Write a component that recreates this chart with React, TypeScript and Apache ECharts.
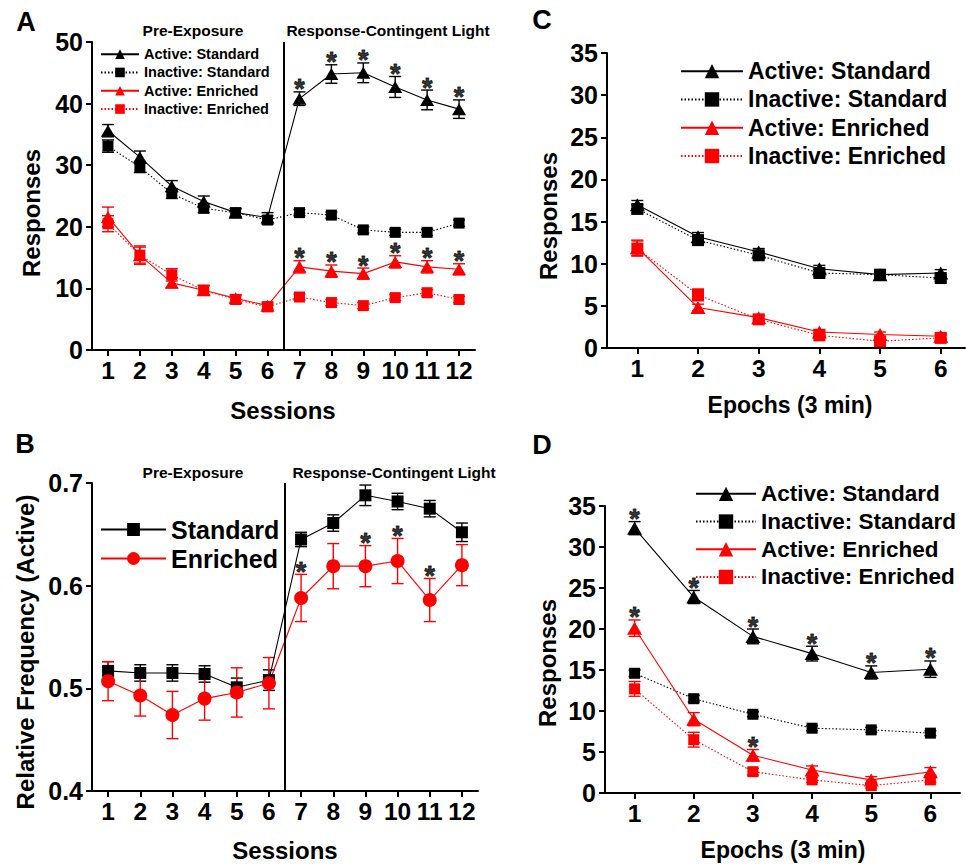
import React, { useEffect, useRef } from "react";
import * as echarts from "echarts";

const FONT = '"Liberation Sans", Arial, sans-serif';
const RED = "#ff0000";
const BLACK = "#000000";

// ---- Panel A: sessions ----
const sessions = [1, 2, 3, 4, 5, 6, 7, 8, 9, 10, 11, 12];
const aActStd = [35.6, 31.3, 26.6, 24.1, 22.3, 21.5, 40.8, 44.8, 45.0, 42.7, 40.6, 39.1];
const aActStdErr = [1.0, 1.0, 0.9, 0.9, 0.7, 0.8, 1.1, 1.5, 1.6, 1.7, 1.6, 1.5];
const aInStd = [33.1, 29.7, 25.4, 23.0, 22.3, 21.1, 22.3, 21.9, 19.5, 19.1, 19.1, 20.6];
const aInStdErr = [1.0, 0.9, 0.8, 0.7, 0.6, 0.7, 0.5, 0.5, 0.5, 0.5, 0.5, 0.5];
const aActEnr = [21.6, 15.4, 10.9, 9.7, 8.4, 7.2, 13.5, 12.8, 12.4, 14.3, 13.5, 13.1];
const aActEnrErr = [1.6, 1.3, 0.8, 0.7, 0.6, 0.6, 1.0, 1.0, 0.9, 1.0, 1.0, 0.9];
const aInEnr = [20.5, 15.4, 12.2, 9.7, 8.2, 7.0, 8.6, 7.7, 7.2, 8.5, 9.3, 8.2];
const aInEnrErr = [1.3, 1.5, 1.0, 0.8, 0.6, 0.6, 0.5, 0.5, 0.5, 0.5, 0.5, 0.5];
const aStarsActStd = [7, 8, 9, 10, 11, 12];
const aStarsActEnr = [7, 8, 9, 10, 11, 12];
const aYTicks = [0, 10, 20, 30, 40, 50];

// ---- Panel B: relative frequency ----
const bStd = [0.517, 0.515, 0.515, 0.514, 0.501, 0.508, 0.645, 0.661, 0.688, 0.682, 0.675, 0.652];
const bStdErr = [0.009, 0.008, 0.008, 0.008, 0.009, 0.01, 0.007, 0.008, 0.01, 0.008, 0.008, 0.009];
const bEnr = [0.507, 0.493, 0.474, 0.49, 0.496, 0.505, 0.588, 0.619, 0.619, 0.624, 0.586, 0.62];
const bEnrErr = [0.019, 0.02, 0.023, 0.021, 0.024, 0.025, 0.023, 0.022, 0.02, 0.022, 0.021, 0.02];
const bStarsEnr = [7, 9, 10, 11];
const bYTicks = [0.4, 0.5, 0.6, 0.7];

// ---- Panel C: epochs (pre-exposure) ----
const epochs = [1, 2, 3, 4, 5, 6];
const cActStd = [17.0, 13.2, 11.4, 9.4, 8.7, 8.9];
const cActStdErr = [0.5, 0.5, 0.4, 0.4, 0.3, 0.4];
const cInStd = [16.5, 12.8, 11.0, 8.9, 8.7, 8.3];
const cInStdErr = [0.5, 0.5, 0.4, 0.4, 0.3, 0.4];
const cActEnr = [11.9, 4.8, 3.6, 1.9, 1.6, 1.4];
const cActEnrErr = [0.9, 0.4, 0.3, 0.3, 0.3, 0.3];
const cInEnr = [11.8, 6.3, 3.4, 1.5, 0.8, 1.2];
const cInEnrErr = [0.9, 0.7, 0.4, 0.3, 0.3, 0.3];

// ---- Panel D: epochs (response-contingent light) ----
const dActStd = [32.3, 23.9, 19.1, 17.0, 14.7, 15.1];
const dActStdErr = [0.8, 0.8, 0.9, 0.9, 0.8, 1.0];
const dInStd = [14.6, 11.5, 9.6, 7.9, 7.7, 7.3];
const dInStdErr = [0.4, 0.4, 0.3, 0.3, 0.3, 0.3];
const dActEnr = [20.1, 9.0, 4.6, 2.8, 1.6, 2.6];
const dActEnrErr = [1.0, 0.8, 0.7, 0.5, 0.4, 0.5];
const dInEnr = [12.7, 6.5, 2.6, 1.6, 0.9, 1.6];
const dInEnrErr = [0.9, 0.9, 0.4, 0.3, 0.3, 0.3];
const dStarsActStd = [1, 2, 3, 4, 5, 6];
const dStarsActEnr = [1, 3];
const cdYTicks = [0, 5, 10, 15, 20, 25, 30, 35];

const legendNames = ["Active: Standard", "Inactive: Standard", "Active: Enriched", "Inactive: Enriched"];
const legendNamesB = ["Standard", "Enriched"];

const DOTTED: number[] = [1.5, 2];

function lineSeries(name: string, xs: number[], ys: number[], g: number, color: string, symbol: string, size: number | number[], dotted: boolean): any {
  return {
    type: "line",
    name,
    xAxisIndex: g,
    yAxisIndex: g,
    data: xs.map((x, i) => [x, ys[i]]),
    symbol,
    symbolSize: size,
    showSymbol: true,
    lineStyle: { color, width: 1.1, type: dotted ? DOTTED : "solid" },
    itemStyle: { color, borderWidth: 0 },
    z: 4,
    silent: true,
  };
}

function errSeries(xs: number[], ys: number[], es: number[], g: number, color: string, cap: number): any {
  return {
    type: "custom",
    xAxisIndex: g,
    yAxisIndex: g,
    data: xs.map((x, i) => [x, ys[i] - es[i], ys[i] + es[i]]),
    encode: { x: 0, y: [1, 2] },
    z: 3,
    silent: true,
    renderItem: (params: any, api: any) => {
      const x = api.value(0);
      const top = api.coord([x, api.value(2)]);
      const bot = api.coord([x, api.value(1)]);
      const style = { stroke: color, lineWidth: 1.4, fill: "none" };
      return {
        type: "group",
        children: [
          { type: "line", shape: { x1: top[0], y1: top[1], x2: bot[0], y2: bot[1] }, style },
          { type: "line", shape: { x1: top[0] - cap, y1: top[1], x2: top[0] + cap, y2: top[1] }, style },
          { type: "line", shape: { x1: bot[0] - cap, y1: bot[1], x2: bot[0] + cap, y2: bot[1] }, style },
        ],
      };
    },
  };
}

function starSeries(xs: number[], allX: number[], ys: number[], es: number[], g: number): any {
  return {
    type: "scatter",
    xAxisIndex: g,
    yAxisIndex: g,
    data: xs.map((x) => {
      const i = allX.indexOf(x);
      return [x, ys[i] + es[i]];
    }),
    symbolSize: 2,
    itemStyle: { color: "rgba(0,0,0,0)" },
    z: 5,
    silent: true,
    label: {
      show: true,
      formatter: "*",
      position: "top",
      distance: -12,
      color: BLACK,
      textBorderColor: BLACK,
      textBorderWidth: 0.8,
      fontSize: 27,
      fontWeight: "bold",
      fontFamily: FONT,
    },
  };
}

function xAxis(g: number, min: number, max: number, ticks: number[]): any {
  return {
    gridIndex: g,
    type: "value",
    min,
    max,
    axisLine: { show: true, onZero: false, lineStyle: { color: BLACK, width: 2 } },
    axisTick: { show: true, length: 6, lineStyle: { color: BLACK, width: 2 }, customValues: ticks },
    axisLabel: {
      customValues: ticks,
      color: BLACK,
      fontSize: 24.5,
      fontWeight: "bold",
      fontFamily: FONT,
      margin: 8,
    },
    splitLine: { show: false },
  };
}

function yAxis(g: number, min: number, max: number, ticks: number[], digits: number): any {
  return {
    gridIndex: g,
    type: "value",
    min,
    max,
    axisLine: { show: true, onZero: false, lineStyle: { color: BLACK, width: 2 } },
    axisTick: { show: true, length: 6, lineStyle: { color: BLACK, width: 2 }, customValues: ticks },
    axisLabel: {
      customValues: ticks,
      formatter: (v: number) => v.toFixed(digits),
      color: BLACK,
      fontSize: 25,
      fontWeight: "bold",
      fontFamily: FONT,
      margin: 9,
    },
    splitLine: { show: false },
  };
}

function legend(names: string[], left: number, top: number, itemWidth: number, itemHeight: number, fontSize: number, lineHeight: number): any {
  return {
    data: names,
    orient: "vertical",
    left,
    top,
    padding: 0,
    itemGap: 0,
    itemWidth,
    itemHeight,
    selectedMode: false,
    textStyle: { color: BLACK, fontSize, fontWeight: "bold", fontFamily: FONT, lineHeight },
  };
}

function txt(text: string, x: number, y: number, size: number, rotate = false): any {
  return {
    type: "text",
    x,
    y,
    rotation: rotate ? Math.PI / 2 : 0,
    silent: true,
    style: {
      text,
      fill: BLACK,
      font: `bold ${size}px ${FONT}`,
      textAlign: "center",
      textVerticalAlign: "middle",
      align: "center",
      verticalAlign: "middle",
    },
  };
}

const divider = {
  silent: true,
  symbol: ["none", "none"],
  label: { show: false },
  lineStyle: { color: BLACK, width: 2, type: "solid" },
  data: [{ xAxis: 6.5 }],
};

export default function App() {
  const ref = useRef<HTMLDivElement>(null);
  useEffect(() => {
    if (!ref.current) return;
    const chart = echarts.init(ref.current, null, { renderer: "svg" });

    const triA = [14, 12];
    const triCD = [15, 13];
    const series: any[] = [];
    // Panel A (grid 0)
    series.push(errSeries(sessions, aActStd, aActStdErr, 0, BLACK, 6));
    series.push(errSeries(sessions, aInStd, aInStdErr, 0, BLACK, 6));
    series.push(errSeries(sessions, aActEnr, aActEnrErr, 0, RED, 6));
    series.push(errSeries(sessions, aInEnr, aInEnrErr, 0, RED, 6));
    const aFirst = lineSeries("Active: Standard", sessions, aActStd, 0, BLACK, "triangle", triA, false);
    aFirst.markLine = divider;
    series.push(aFirst);
    series.push(lineSeries("Inactive: Standard", sessions, aInStd, 0, BLACK, "rect", 11, true));
    series.push(lineSeries("Active: Enriched", sessions, aActEnr, 0, RED, "triangle", triA, false));
    series.push(lineSeries("Inactive: Enriched", sessions, aInEnr, 0, RED, "rect", 11, true));
    series.push(starSeries(aStarsActStd, sessions, aActStd, aActStdErr, 0));
    series.push(starSeries(aStarsActEnr, sessions, aActEnr, aActEnrErr, 0));

    // Panel B (grid 1)
    series.push(errSeries(sessions, bStd, bStdErr, 1, BLACK, 6));
    series.push(errSeries(sessions, bEnr, bEnrErr, 1, RED, 6));
    const bFirst = lineSeries("Standard", sessions, bStd, 1, BLACK, "rect", 12, false);
    bFirst.markLine = divider;
    series.push(bFirst);
    series.push(lineSeries("Enriched", sessions, bEnr, 1, RED, "circle", 14, false));
    series.push(starSeries(bStarsEnr, sessions, bEnr, bEnrErr, 1));

    // Panel C (grid 2)
    series.push(errSeries(epochs, cActStd, cActStdErr, 2, BLACK, 6));
    series.push(errSeries(epochs, cInStd, cInStdErr, 2, BLACK, 6));
    series.push(errSeries(epochs, cActEnr, cActEnrErr, 2, RED, 6));
    series.push(errSeries(epochs, cInEnr, cInEnrErr, 2, RED, 6));
    series.push(lineSeries("Active: Standard", epochs, cActStd, 2, BLACK, "triangle", triCD, false));
    series.push(lineSeries("Inactive: Standard", epochs, cInStd, 2, BLACK, "rect", 12, true));
    series.push(lineSeries("Active: Enriched", epochs, cActEnr, 2, RED, "triangle", triCD, false));
    series.push(lineSeries("Inactive: Enriched", epochs, cInEnr, 2, RED, "rect", 12, true));

    // Panel D (grid 3)
    series.push(errSeries(epochs, dActStd, dActStdErr, 3, BLACK, 6));
    series.push(errSeries(epochs, dInStd, dInStdErr, 3, BLACK, 6));
    series.push(errSeries(epochs, dActEnr, dActEnrErr, 3, RED, 6));
    series.push(errSeries(epochs, dInEnr, dInEnrErr, 3, RED, 6));
    series.push(lineSeries("Active: Standard", epochs, dActStd, 3, BLACK, "triangle", triCD, false));
    series.push(lineSeries("Inactive: Standard", epochs, dInStd, 3, BLACK, "rect", 11, true));
    series.push(lineSeries("Active: Enriched", epochs, dActEnr, 3, RED, "triangle", triCD, false));
    series.push(lineSeries("Inactive: Enriched", epochs, dInEnr, 3, RED, "rect", 11, true));
    series.push(starSeries(dStarsActStd, epochs, dActStd, dActStdErr, 3));
    series.push(starSeries(dStarsActEnr, epochs, dActEnr, dActEnrErr, 3));

    chart.setOption({
      animation: false,
      backgroundColor: "#ffffff",
      textStyle: { fontFamily: FONT },
      grid: [
        { left: 92, top: 42, width: 383, height: 308 },
        { left: 92, top: 483, width: 386, height: 308 },
        { left: 607, top: 53, width: 358, height: 295 },
        { left: 605, top: 506, width: 355, height: 287 },
      ],
      xAxis: [
        xAxis(0, 0.5, 12.5, sessions),
        xAxis(1, 0.5, 12.5, sessions),
        xAxis(2, 0.5, 6.4, epochs),
        xAxis(3, 0.5, 6.5, epochs),
      ],
      yAxis: [
        yAxis(0, 0, 50, aYTicks, 0),
        yAxis(1, 0.4, 0.7, bYTicks, 1),
        yAxis(2, 0, 35, cdYTicks, 0),
        yAxis(3, 0, 35, cdYTicks, 0),
      ],
      legend: [
        legend(legendNames, 100, 45, 38, 12, 14.5, 18.3),
        legend(legendNamesB, 100, 515, 65, 16, 25, 29),
        legend(legendNames, 680, 57, 62, 18, 23, 28.3),
        legend(legendNames, 695, 480, 60, 18, 22.5, 27.7),
      ],
      graphic: [
        txt("A", 26, 22, 27),
        txt("B", 25, 444, 27),
        txt("C", 542, 20, 27),
        txt("D", 542, 445, 27),
        txt("Pre-Exposure", 193, 30, 15.5),
        txt("Response-Contingent Light", 388, 30, 15.5),
        txt("Pre-Exposure", 193, 472, 15.5),
        txt("Response-Contingent Light", 394, 472, 15.5),
        txt("Responses", 31, 213, 24, true),
        txt("Sessions", 283, 410, 24),
        txt("Relative Frequency (Active)", 25, 652, 24, true),
        txt("Sessions", 285, 850, 24),
        txt("Responses", 548, 216, 24, true),
        txt("Epochs (3 min)", 790, 405, 23),
        txt("Responses", 547, 663, 24, true),
        txt("Epochs (3 min)", 783, 850, 23),
      ],
      series,
    });
    return () => chart.dispose();
  }, []);
  return (
    <div
      ref={ref}
      style={{ position: "absolute", left: 0, top: 0, width: 966, height: 864, background: "#fff" }}
    />
  );
}
